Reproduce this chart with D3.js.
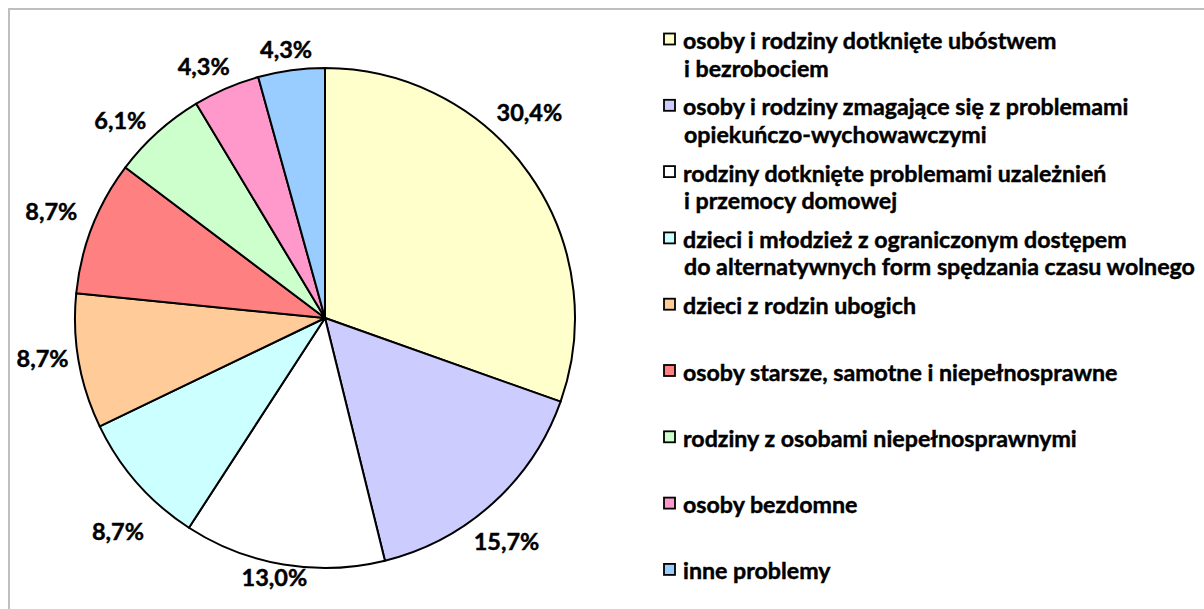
<!DOCTYPE html>
<html>
<head>
<meta charset="utf-8">
<script src="https://cdn.jsdelivr.net/npm/d3@7/dist/d3.min.js"></script>
<style>
  html, body { margin: 0; padding: 0; background: #fff; }
  svg { display: block; }
  text { font-family: Lato, "Open Sans", sans-serif; font-weight: 700; fill: #000; stroke: #000; stroke-width: 0.45px; }
</style>
</head>
<body>
<svg id="chart" width="1204" height="609"></svg>
<script>
// ---- data ----
const categories = [
  ["osoby i rodziny dotknięte ubóstwem", "i bezrobociem"],
  ["osoby i rodziny zmagające się z problemami", "opiekuńczo-wychowawczymi"],
  ["rodziny dotknięte problemami uzależnień", "i przemocy domowej"],
  ["dzieci i młodzież z ograniczonym dostępem", "do alternatywnych form spędzania czasu wolnego"],
  ["dzieci z rodzin ubogich"],
  ["osoby starsze, samotne i niepełnosprawne"],
  ["rodziny z osobami niepełnosprawnymi"],
  ["osoby bezdomne"],
  ["inne problemy"]
];
const values = [30.4, 15.7, 13.0, 8.7, 8.7, 8.7, 6.1, 4.3, 4.3];
const valueLabels = ["30,4%", "15,7%", "13,0%", "8,7%", "8,7%", "8,7%", "6,1%", "4,3%", "4,3%"];
const colors = ["#FFFFCC", "#CCCCFF", "#FFFFFF", "#CCFFFF", "#FFCC99", "#FF8080", "#CCFFCC", "#FF99CC", "#99CCFF"];
// small nudges to mimic the original label placement: [angle in degrees, radial px]
const labelNudge = [[-10, -2], [3, -3], [1.5, -14], [-4.5, 10], [2, -4], [0, 4], [-4, -3], [-2.5, -3], [-0.5, -4]];

// ---- layout ----
const svg = d3.select("#chart");
const cx = 325, cy = 318, R = 250;

svg.append("rect")
  .attr("x", 9).attr("y", 9).attr("width", 1220).attr("height", 620)
  .attr("fill", "none").attr("stroke", "#BFBFBF").attr("stroke-width", 2);

const pie = d3.pie().sort(null).value(d => d);
const arcs = pie(values);
const arc = d3.arc().innerRadius(0).outerRadius(R);

const g = svg.append("g").attr("transform", `translate(${cx},${cy})`);
g.selectAll("path.slice").data(arcs).enter().append("path")
  .attr("class", "slice")
  .attr("d", arc)
  .attr("fill", (d, i) => colors[i])
  .attr("stroke", "#000")
  .attr("stroke-width", 2)
  .attr("stroke-linejoin", "round");

// value labels placed outside the pie
const gap = 12;
g.selectAll("text.val").data(arcs).enter().append("text")
  .attr("class", "val")
  .attr("font-size", 23.5)
  .attr("text-anchor", "middle")
  .attr("dominant-baseline", "central")
  .text((d, i) => valueLabels[i])
  .each(function(d, i) {
    const w = this.getComputedTextLength();
    const h = 20;
    const a = (d.startAngle + d.endAngle) / 2 + labelNudge[i][0] * Math.PI / 180;
    const s = Math.sin(a), c = Math.cos(a);
    const r = R + gap + (w / 2) * Math.abs(s) + (h / 2) * Math.abs(c) + labelNudge[i][1];
    d3.select(this).attr("x", r * s).attr("y", -r * c);
  });

// legend
const legX = 663, legY0 = 39, legStep = 66.3, lineH = 27.5, sq = 12;
const legFont = 23.2;
const leg = svg.append("g");
const items = leg.selectAll("g.item").data(categories).enter().append("g")
  .attr("class", "item")
  .attr("transform", (d, i) => `translate(${legX},${legY0 + i * legStep})`);
items.append("rect")
  .attr("x", 1).attr("y", -sq / 2 + 0.5).attr("width", sq - 1).attr("height", sq - 1)
  .attr("fill", (d, i) => colors[i])
  .attr("stroke", "#000").attr("stroke-width", 1.8);
items.each(function(lines) {
  const sel = d3.select(this);
  lines.forEach((ln, j) => {
    sel.append("text")
      .attr("x", j === 0 ? 20 : 21)
      .attr("y", j * lineH + 1)
      .attr("font-size", legFont)
      .attr("dominant-baseline", "central")
      .text(ln);
  });
});
</script>
</body>
</html>
